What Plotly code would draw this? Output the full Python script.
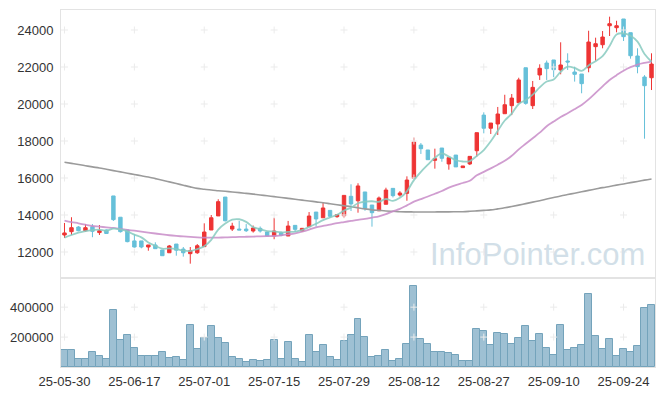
import plotly.graph_objects as go
import pandas as pd

dates = [
    "25-05-30",
    "25-06-02", "25-06-04", "25-06-05", "25-06-09", "25-06-10", "25-06-11", "25-06-12", "25-06-13",
    "25-06-16", "25-06-17", "25-06-18", "25-06-19", "25-06-20", "25-06-23", "25-06-24", "25-06-25",
    "25-06-26", "25-06-27", "25-06-30",
    "25-07-01", "25-07-02", "25-07-03", "25-07-04", "25-07-07", "25-07-08", "25-07-09", "25-07-10",
    "25-07-11", "25-07-14", "25-07-15", "25-07-16", "25-07-17", "25-07-18", "25-07-21", "25-07-22",
    "25-07-23", "25-07-24", "25-07-25", "25-07-28", "25-07-29", "25-07-30", "25-07-31",
    "25-08-01", "25-08-04", "25-08-05", "25-08-06", "25-08-07", "25-08-08", "25-08-11", "25-08-12",
    "25-08-13", "25-08-14", "25-08-18", "25-08-19", "25-08-20", "25-08-21", "25-08-22", "25-08-25",
    "25-08-26", "25-08-27", "25-08-28", "25-08-29",
    "25-09-01", "25-09-02", "25-09-03", "25-09-04", "25-09-05", "25-09-08", "25-09-09", "25-09-10",
    "25-09-11", "25-09-12", "25-09-15", "25-09-16", "25-09-17", "25-09-18", "25-09-19", "25-09-22",
    "25-09-23", "25-09-24", "25-09-25", "25-09-26", "25-09-29", "25-09-30",
]

opens = [12920, 13100, 13350, 13150, 13370, 13050, 13190, 15030, 13880, 13190,
         12600, 12600, 12270, 12380, 12110, 11960, 12430, 12160, 11910, 11960,
         12290, 13190, 13950, 14970, 13240, 13240, 13240, 13135, 13280, 13080,
         12865, 13045, 12865, 13440, 13135, 13370, 14160, 13850, 14250, 13910,
         13960, 15010, 14770, 15245, 14540, 14230, 14580, 15440, 15080, 15170,
         15985, 17780, 17515, 16955, 17620, 16760, 17240, 16560, 16760, 17475,
         19400, 18690, 18920, 19475, 19910, 20070, 21960, 19910, 21570, 22215,
         22380, 21840, 22325, 21730, 21620, 21960, 23100, 23205, 24230, 24125,
         24595, 23855, 22595, 21460, 21420]
highs = [13570, 13880, 13400, 13500, 13510, 13460, 13220, 15030, 13880, 13190,
         12960, 12600, 12380, 12525, 12110, 12380, 12430, 12270, 12270, 12430,
         13550, 14000, 14850, 14970, 13580, 13680, 13510, 13430, 13380, 13080,
         13850, 13100, 13680, 13440, 13280, 14160, 14160, 14690, 14250, 14020,
         15060, 15660, 15715, 15245, 14540, 15000, 15475, 15440, 15290, 16090,
         18180, 17890, 17515, 17585, 17620, 17100, 17240, 16650, 17170, 18450,
         19550, 18970, 19840, 20500, 20540, 21420, 21960, 21245, 22145, 22350,
         22380, 23335, 22740, 22020, 21620, 23960, 23585, 23945, 24720, 24500,
         24595, 23855, 23010, 21560, 22740]
lows = [12760, 12920, 13120, 13100, 12800, 12920, 12980, 13680, 13050, 12525,
        12240, 12200, 12070, 12180, 11800, 11960, 11800, 11750, 11370, 11900,
        12290, 13190, 13950, 13650, 13135, 13190, 13080, 13050, 13050, 12865,
        12690, 12850, 12865, 13080, 13080, 13370, 13370, 13850, 13850, 13850,
        13850, 14215, 14125, 14230, 13370, 14230, 14580, 14950, 15000, 14770,
        15985, 17300, 16990, 16505, 16880, 16450, 16600, 16560, 16700, 17150,
        18415, 18380, 18325, 19475, 19400, 20070, 19960, 19730, 21300, 21300,
        21450, 21605, 21840, 21210, 20580, 21715, 22340, 23010, 23675, 23875,
        23405, 22450, 21660, 18125, 20755]
closes = [13030, 13315, 13150, 13315, 13120, 13150, 13000, 13750, 13100, 12560,
          12270, 12270, 12380, 12180, 11800, 12325, 12100, 11960, 12070, 12340,
          13080, 13850, 14720, 13690, 13400, 13190, 13150, 13300, 13135, 12865,
          13135, 12900, 13405, 13225, 13280, 13945, 13785, 14380, 13930, 14020,
          15060, 14600, 15570, 14365, 14125, 14920, 15350, 15045, 15190, 15890,
          17945, 17585, 16990, 17045, 17065, 17100, 16600, 16650, 17170, 18450,
          18690, 18970, 19460, 19960, 20320, 21300, 20035, 20900, 21930, 21910,
          21855, 22110, 22270, 21605, 21100, 23350, 23260, 23620, 24340, 24230,
          23640, 22610, 22020, 20990, 22160]
volumes = [116000, 116000, 56000, 56000, 102000, 73000, 56000, 383000, 183000, 214000,
           129000, 73000, 73000, 73000, 102000, 62000, 67000, 49000, 283000, 122000,
           196000, 274000, 194000, 163000, 67000, 56000, 33000, 49000, 42000, 49000,
           183000, 56000, 169000, 56000, 36000, 214000, 102000, 147000, 67000, 49000,
           176000, 214000, 321000, 200000, 67000, 76000, 114000, 40000, 53000, 154000,
           544000, 189000, 154000, 102000, 102000, 94000, 80000, 40000, 40000, 254000,
           241000, 147000, 227000, 221000, 154000, 194000, 274000, 176000, 221000, 127000,
           80000, 281000, 114000, 127000, 147000, 488000, 207000, 120000, 187000, 73000,
           120000, 102000, 140000, 394000, 414000]

# first four 5-day average values (need closes before the visible window)
ma5_head = [12775, 12920, 13045, 13135]
ma20 = [13700, 13620, 13550, 13475, 13405, 13370, 13335, 13300, 13250, 13200,
        13150, 13100, 13050, 13000, 12950, 12905, 12870, 12840, 12815, 12795,
        12780, 12775, 12780, 12790, 12800, 12815, 12825, 12835, 12845, 12855,
        12865, 12900, 12950, 13010, 13100, 13210, 13335, 13410, 13480, 13560,
        13620, 13680, 13740, 13785, 13860, 13930, 14050, 14200, 14330, 14520,
        14720, 14860, 15000, 15150, 15300, 15480, 15620, 15730, 15850, 16150,
        16330, 16520, 16720, 16930, 17200, 17550, 17850, 18150, 18450, 18800,
        19050, 19300, 19500, 19720, 19950, 20250, 20600, 20950, 21300, 21560,
        21800, 21990, 22130, 22220, 22290]
ma120 = [16850, 16790, 16730, 16665, 16600, 16540, 16470, 16400, 16330, 16260,
         16190, 16120, 16050, 15965, 15880, 15790, 15700, 15610, 15520, 15440,
         15395, 15350, 15315, 15280, 15245, 15210, 15170, 15130, 15085, 15040,
         14995, 14950, 14900, 14850, 14805, 14760, 14710, 14665, 14610, 14555,
         14500, 14450, 14390, 14330, 14280, 14250, 14220, 14200, 14180, 14170,
         14165, 14160, 14160, 14165, 14170, 14170, 14175, 14180, 14200, 14225,
         14250, 14275, 14330, 14390, 14460, 14535, 14615, 14695, 14775, 14860,
         14945, 15030, 15105, 15180, 15255, 15330, 15405, 15480, 15545, 15615,
         15680, 15750, 15815, 15885, 15950]

price_ticks = [12000, 14000, 16000, 18000, 20000, 22000, 24000]
volume_ticks = [200000, 400000]
label_step = 10

RED = "#ee3434"
BLUE = "#66c0d9"

x = list(range(len(dates)))
ma5 = ma5_head + pd.Series(closes).rolling(5).mean().dropna().round(0).tolist()
tick_idx = x[::label_step]
tick_txt = dates[::label_step]

fig = go.Figure()

# grid crosses
cross = dict(symbol="cross-thin", size=5, line=dict(color="#ebebeb", width=1))
cx, cy = [], []
for t in tick_idx:
    for v in price_ticks:
        cx.append(t); cy.append(v)
fig.add_trace(go.Scatter(x=cx, y=cy, mode="markers", xaxis="x", yaxis="y",
                         marker=cross, hoverinfo="skip", showlegend=False))
vx, vy = [], []
for t in tick_idx:
    for v in volume_ticks:
        vx.append(t); vy.append(v)
fig.add_trace(go.Scatter(x=vx, y=vy, mode="markers", xaxis="x2", yaxis="y2",
                         marker=cross, hoverinfo="skip", showlegend=False))

fig.add_trace(go.Candlestick(
    x=x, open=opens, high=highs, low=lows, close=closes,
    increasing=dict(line=dict(color=RED, width=1), fillcolor=RED),
    decreasing=dict(line=dict(color=BLUE, width=1), fillcolor=BLUE),
    whiskerwidth=0, xaxis="x", yaxis="y", showlegend=False, hoverinfo="skip"))

fig.add_trace(go.Scatter(x=x, y=ma120, mode="lines", xaxis="x", yaxis="y",
                         line=dict(color="#9b9b9b", width=1.6, shape="spline"),
                         showlegend=False, hoverinfo="skip"))
fig.add_trace(go.Scatter(x=x, y=ma20, mode="lines", xaxis="x", yaxis="y",
                         line=dict(color="rgba(200,140,200,0.85)", width=1.8, shape="spline"),
                         showlegend=False, hoverinfo="skip"))
fig.add_trace(go.Scatter(x=x, y=ma5, mode="lines", xaxis="x", yaxis="y",
                         line=dict(color="rgba(135,202,192,0.85)", width=1.8, shape="spline"),
                         showlegend=False, hoverinfo="skip"))

fig.add_trace(go.Bar(x=x, y=volumes, xaxis="x2", yaxis="y2",
                     marker=dict(color="rgba(125,171,196,0.75)", line=dict(color="#74a3bb", width=1)),
                     showlegend=False, hoverinfo="skip"))

split = 89 / 357
axis_line = dict(showline=True, mirror=True, linecolor="#e3e3e3", linewidth=1,
                 showgrid=False, zeroline=False)

# the page body adds an 8px margin, so the figure is sized to fit the 665x396 window
fig.update_layout(
    width=657, height=388,
    margin=dict(l=53, r=10, t=2, b=29),
    paper_bgcolor="white", plot_bgcolor="white",
    font=dict(family="Liberation Sans, Arial, sans-serif", size=13, color="#333333"),
    bargap=0,
    xaxis=dict(domain=[0, 1], anchor="y", range=[-0.5, len(dates) - 0.5],
               showticklabels=False, rangeslider=dict(visible=False), **axis_line),
    yaxis=dict(domain=[split, 1], anchor="x", range=[10595, 25081],
               tickvals=price_ticks, tickformat="d", ticks="outside", ticklen=4,
               tickcolor="rgba(0,0,0,0)", **axis_line),
    xaxis2=dict(domain=[0, 1], anchor="y2", range=[-0.5, len(dates) - 0.5],
                matches="x", tickvals=tick_idx, ticktext=tick_txt,
                ticks="outside", ticklen=2, tickcolor="rgba(0,0,0,0)", **axis_line),
    yaxis2=dict(domain=[0, split], anchor="x2", range=[0, 595000],
                tickvals=volume_ticks, tickformat="d", ticks="outside", ticklen=4,
                tickcolor="rgba(0,0,0,0)", **axis_line),
    annotations=[dict(text="InfoPointer.com", xref="paper", yref="paper",
                      x=(647 - 61) / 594, y=(367 - 254.5) / 357,
                      xanchor="right", yanchor="middle", showarrow=False,
                      font=dict(size=31, color="#d2dfe8",
                                family="Liberation Sans, Arial, sans-serif"))],
)

fig.write_html("out.html")
